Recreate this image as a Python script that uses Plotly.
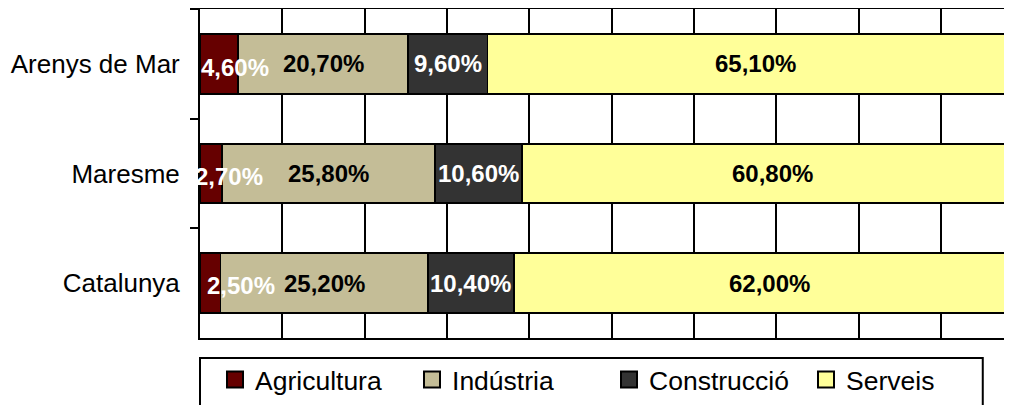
import plotly.graph_objects as go

categories = ["Arenys de Mar", "Maresme", "Catalunya"]
sectors = ["Agricultura", "Indústria", "Construcció", "Serveis"]
agricultura = [4.6, 2.7, 2.5]
industria = [20.7, 25.8, 25.2]
construccio = [9.6, 10.6, 10.4]
serveis = [65.1, 60.8, 62.0]

series = [agricultura, industria, construccio, serveis]
colors = ["#660000", "#C4BD97", "#333333", "#FFFF99"]
label_colors = ["white", "black", "white", "black"]
# pixel nudges for the small Agricultura labels (as drawn in the original)
agri_xshift = [16, 18, 31]
agri_yshift = [-4, -3, -2]

FONT = "Liberation Sans, Arial, sans-serif"

fig = go.Figure()
for name, vals, col in zip(sectors, series, colors):
    fig.add_trace(go.Bar(
        y=categories, x=vals, name=name, orientation="h",
        marker=dict(color=col, line=dict(color="black", width=1.8)),
        showlegend=False, hoverinfo="skip",
    ))
# legend entries with larger square swatches
for name, col in zip(sectors, colors):
    fig.add_trace(go.Scatter(
        x=[None], y=[None], mode="markers", name=name,
        marker=dict(symbol="square", size=16, color=col,
                    line=dict(color="black", width=2)),
        showlegend=True,
    ))

annotations = []
for ci, cat in enumerate(categories):
    cum = 0.0
    for si, vals in enumerate(series):
        v = vals[ci]
        mid = cum + v / 2
        cum += v
        txt = "<b>" + f"{v:.2f}".replace(".", ",") + "%</b>"
        a = dict(x=mid, y=cat, xref="x", yref="y", text=txt, showarrow=False,
                 font=dict(family=FONT, size=24, color=label_colors[si]),
                 xanchor="center", yanchor="middle")
        if si == 0:
            a["xshift"] = agri_xshift[ci]
            a["yshift"] = agri_yshift[ci]
        annotations.append(a)

# legend frame (drawn as a shape so the entries can sit inset inside it)
legend_frame = dict(type="rect", xref="paper", yref="paper",
                    x0=0.0, x1=0.964, y0=-0.23, y1=-0.0608,
                    line=dict(color="black", width=2), fillcolor="rgba(0,0,0,0)",
                    layer="above")

# page body adds an 8px margin, so the figure is sized to fill the rest
fig.update_layout(
    width=1004, height=397,
    margin=dict(l=192, r=0, t=1, b=67, autoexpand=False),
    paper_bgcolor="white", plot_bgcolor="white",
    barmode="stack", bargap=0.455,
    font=dict(family=FONT, size=26, color="black"),
    annotations=annotations,
    shapes=[legend_frame],
    legend=dict(
        orientation="h", x=0.0185, xanchor="left", y=-0.054, yanchor="top",
        borderwidth=0, bgcolor="rgba(0,0,0,0)",
        font=dict(family=FONT, size=26.5, color="black"),
        entrywidth=152, itemclick=False, traceorder="normal",
    ),
    showlegend=True,
)
fig.update_xaxes(
    range=[0, 98.6], dtick=10, showgrid=True, gridcolor="black", gridwidth=2,
    showline=True, linecolor="black", linewidth=2, mirror=True,
    showticklabels=False, ticks="", zeroline=False, fixedrange=True,
)
fig.update_yaxes(
    categoryorder="array", categoryarray=categories, autorange="reversed",
    showline=True, linecolor="black", linewidth=2, mirror=False,
    ticks="outside", tickson="boundaries", ticklen=8, tickwidth=2, tickcolor="black",
    showgrid=False, ticklabelstandoff=13,
    tickfont=dict(family=FONT, size=26, color="black"), fixedrange=True,
)

fig.write_html("out.html")
